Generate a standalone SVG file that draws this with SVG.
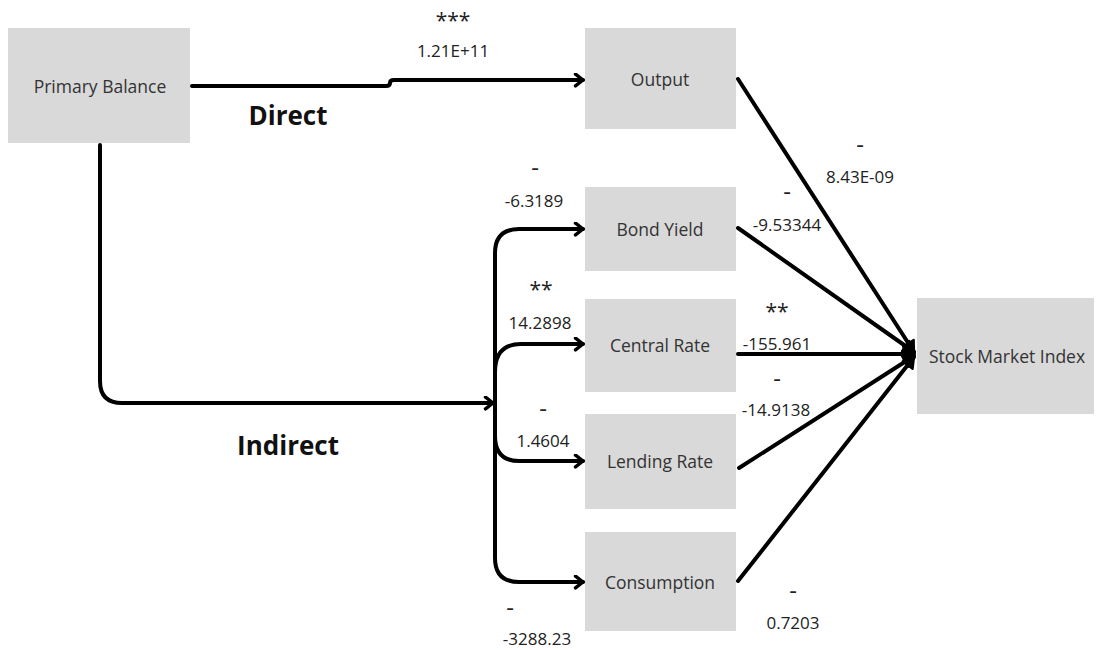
<svg xmlns="http://www.w3.org/2000/svg" width="1100" height="650" viewBox="0 0 1100 650">
<style>
.node{fill:#d9d9d9;}
.nt{font-family:"Open Sans","Liberation Sans",sans-serif;font-size:17.5px;fill:#333;text-anchor:middle;dominant-baseline:central;}
.lb{font-family:"Open Sans","Liberation Sans",sans-serif;font-size:17px;fill:#222;text-anchor:middle;dominant-baseline:central;}
.dash{font-family:"Open Sans","Liberation Sans",sans-serif;font-size:24px;fill:#222;text-anchor:middle;dominant-baseline:central;}
.big{font-family:"Open Sans","Liberation Sans",sans-serif;font-size:26px;font-weight:bold;fill:#111;text-anchor:middle;dominant-baseline:central;}
.c{fill:none;stroke:#000;stroke-width:4;stroke-linecap:round;stroke-linejoin:round;}
</style>
<defs>
<marker id="ah" viewBox="0 0 14 14" refX="11" refY="7" markerWidth="15" markerHeight="15" markerUnits="userSpaceOnUse" orient="auto">
<path d="M4,1.5 L11,7 L4,12.5" fill="none" stroke="#000" stroke-width="3.2" stroke-linecap="round" stroke-linejoin="round"/>
</marker>
<marker id="ah2" viewBox="0 0 14 14" refX="12" refY="7" markerWidth="16" markerHeight="16" markerUnits="userSpaceOnUse" orient="auto">
<path d="M3,1.5 L12,7 L3,12.5 Z" fill="#000" stroke="#000" stroke-width="2" stroke-linejoin="round"/>
</marker>
</defs>
<rect width="1100" height="650" fill="#fff"/>
<g id="connectors">
<path class="c" d="M192,86 H386 Q390,86 390,83 Q390,80 394,80 H583" marker-end="url(#ah)"/>
<path class="c" d="M100,145 V381 Q100,403 122,403 H493" marker-end="url(#ah)"/>
<path class="c" d="M495,403 V253 Q495,229 519,229 H583" marker-end="url(#ah)"/>
<path class="c" d="M495,372 Q495,344 521,344 H583" marker-end="url(#ah)"/>
<path class="c" d="M495,436 Q495,461 519,461 H583" marker-end="url(#ah)"/>
<path class="c" d="M495,403 V558 Q495,582 519,582 H583" marker-end="url(#ah)"/>
<path class="c" d="M738,79 L914,352" marker-end="url(#ah2)"/>
<path class="c" d="M738,228 L914,352" marker-end="url(#ah2)"/>
<path class="c" d="M738,354 L914,354" marker-end="url(#ah2)"/>
<path class="c" d="M739,468 L914,356" marker-end="url(#ah2)"/>
<path class="c" d="M738,581 L914,357" marker-end="url(#ah2)"/>
</g>
<g id="primary-balance"><rect class="node" x="8" y="28" width="182" height="115"/><text class="nt" x="100" y="86">Primary Balance</text></g>
<g id="output"><rect class="node" x="585" y="28" width="151" height="101"/><text class="nt" x="660" y="79">Output</text></g>
<g id="bond-yield"><rect class="node" x="585" y="187" width="151" height="84"/><text class="nt" x="660" y="229">Bond Yield</text></g>
<g id="central-rate"><rect class="node" x="585" y="299" width="151" height="93"/><text class="nt" x="660" y="345">Central Rate</text></g>
<g id="lending-rate"><rect class="node" x="585" y="414" width="151" height="95"/><text class="nt" x="660" y="461">Lending Rate</text></g>
<g id="consumption"><rect class="node" x="585" y="532" width="151" height="99"/><text class="nt" x="660" y="582">Consumption</text></g>
<g id="stock-market-index"><rect class="node" x="917" y="298" width="177" height="116"/><text class="nt" x="1007" y="356">Stock Market Index</text></g>
<g id="labels">
<text class="big" x="288" y="115">Direct</text>
<text class="big" x="288" y="445">Indirect</text>
<text class="lb" x="453" y="20" style="font-size:21px">***</text>
<text class="lb" x="453" y="50">1.21E+11</text>
<text class="dash" x="535" y="166">-</text>
<text class="lb" x="534" y="200">-6.3189</text>
<text class="lb" x="541" y="289" style="font-size:21px">**</text>
<text class="lb" x="540" y="322">14.2898</text>
<text class="dash" x="543" y="407">-</text>
<text class="lb" x="543" y="440">1.4604</text>
<text class="dash" x="510" y="606">-</text>
<text class="lb" x="537" y="638">-3288.23</text>
<text class="dash" x="860" y="143">-</text>
<text class="lb" x="860" y="176">8.43E-09</text>
<text class="dash" x="787" y="190">-</text>
<text class="lb" x="787" y="224">-9.53344</text>
<text class="lb" x="777" y="311" style="font-size:21px">**</text>
<text class="lb" x="777" y="343">-155.961</text>
<text class="dash" x="777" y="377">-</text>
<text class="lb" x="776" y="409">-14.9138</text>
<text class="dash" x="793" y="589">-</text>
<text class="lb" x="793" y="622">0.7203</text>
</g>
</svg>
